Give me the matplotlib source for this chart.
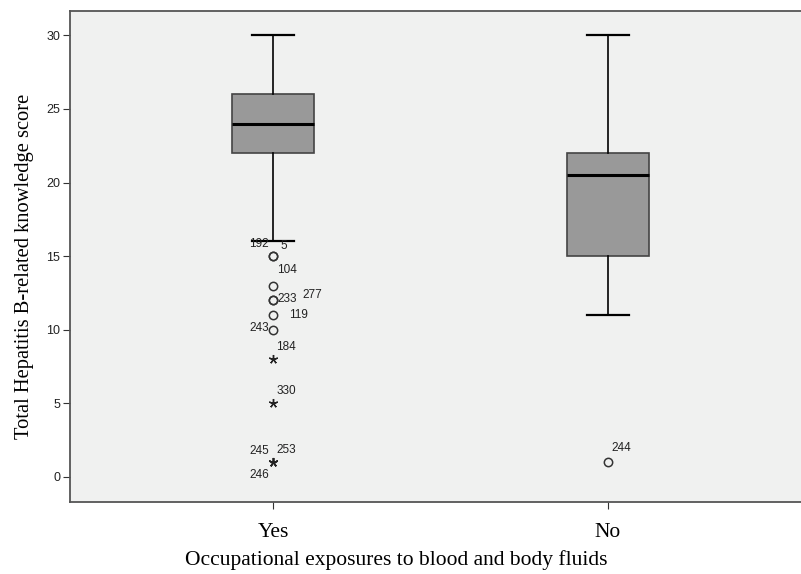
import matplotlib
matplotlib.use("Agg")
import matplotlib.pyplot as plt

categories = ["Yes", "No"]
whislo = [16, 11]
q1 = [22, 15]
med = [24, 20.5]
q3 = [26, 22]
whishi = [30, 30]

# outliers per group
circle_vals = [[15, 15, 13, 12, 12, 11, 10], [1]]
circle_labels = [["192", "5", "104", "233", "277", "119", "243"], ["244"]]
star_vals = [[8, 5, 1, 1, 1], []]
star_labels = [["184", "330", "245", "253", "246"], []]

label_offsets = {
    "192": (-3, 9, "right"), "5": (5, 7, "left"), "104": (3, 11, "left"),
    "233": (3, 1, "left"), "277": (21, 4, "left"), "119": (11, 0, "left"),
    "243": (-3, 1, "right"), "184": (2, 9, "left"), "330": (2, 9, "left"),
    "245": (-3, 8, "right"), "253": (2, 9, "left"), "246": (-3, -9, "right"),
    "244": (3, 10, "left"),
}

fig = plt.figure(figsize=(8.01, 5.74), dpi=100)
ax = fig.add_axes([70 / 801, 1 - 502 / 574, 731 / 801, 491 / 574])
ax.set_facecolor("#f0f1f0")

stats = []
for i in range(len(categories)):
    stats.append(dict(med=med[i], q1=q1[i], q3=q3[i], whislo=whislo[i],
                      whishi=whishi[i], fliers=[], label=categories[i]))
positions = [1, 2]
ax.bxp(stats, positions=positions, widths=0.245, patch_artist=True,
       showfliers=False,
       boxprops=dict(facecolor="#999999", edgecolor="#444444", linewidth=1.2),
       medianprops=dict(color="black", linewidth=2.2),
       whiskerprops=dict(color="black", linewidth=1.2),
       capprops=dict(color="black", linewidth=1.6),
       capwidths=0.125)

for i, p in enumerate(positions):
    for v, lab in zip(circle_vals[i], circle_labels[i]):
        ax.plot([p], [v], marker="o", markersize=6, markerfacecolor="none",
                markeredgecolor="#333333", markeredgewidth=1.1, linestyle="none")
        dx, dy, ha = label_offsets[lab]
        ax.annotate(lab, (p, v), xytext=(dx, dy), textcoords="offset points",
                    ha=ha, va="center", fontsize=8.5, family="Liberation Sans",
                    color="#222222")
    for v, lab in zip(star_vals[i], star_labels[i]):
        ax.plot([p], [v], marker=(5, 2, 0), markersize=6.5, color="#222222",
                markeredgewidth=1.0, linestyle="none")
        dx, dy, ha = label_offsets[lab]
        ax.annotate(lab, (p, v), xytext=(dx, dy), textcoords="offset points",
                    ha=ha, va="center", fontsize=8.5, family="Liberation Sans",
                    color="#222222")

ax.set_xlim(0.392, 2.578)
ax.set_ylim(-1.7, 31.65)
ax.set_yticks([0, 5, 10, 15, 20, 25, 30])
ax.set_xticks(positions)
ax.set_xticklabels(categories, family="Liberation Serif", fontsize=15.5)
for t in ax.get_yticklabels():
    t.set_family("Liberation Sans")
    t.set_fontsize(9)
    t.set_color("#222222")
ax.tick_params(axis="y", length=5, width=0.8, color="#333333", pad=2)
ax.tick_params(axis="x", length=5, width=0.8, color="#333333", pad=10)

for s in ["left", "top", "bottom"]:
    ax.spines[s].set_color("#555555")
    ax.spines[s].set_linewidth(1.3)
ax.spines["right"].set_visible(False)

ax.set_ylabel("Total Hepatitis B-related knowledge score",
              family="Liberation Serif", fontsize=14.8)
ax.set_xlabel("Occupational exposures to blood and body fluids",
              family="Liberation Serif", fontsize=15.5)
ax.yaxis.set_label_coords(-36 / 731, 0.479)
ax.xaxis.set_label_coords(0.446, -48 / 491)

fig.savefig("out.png", dpi=100)
